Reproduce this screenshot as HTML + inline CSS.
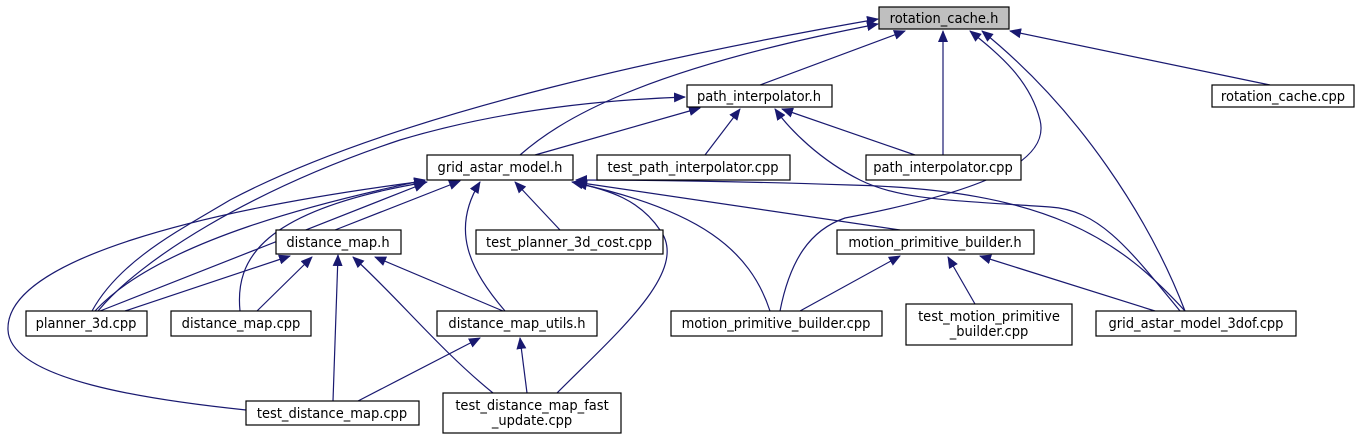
<!DOCTYPE html>
<html><head><meta charset="utf-8"><style>
html,body{margin:0;padding:0;background:#fff;}
svg text{font-family:"DejaVu Sans Condensed","DejaVu Sans","Liberation Sans",sans-serif;font-size:14.5px;fill:#000;}
</style></head><body>
<svg width="1364" height="440" viewBox="0 0 1364 440" xmlns="http://www.w3.org/2000/svg">
<defs>
<marker id="a" markerWidth="12" markerHeight="10" refX="11" refY="5" orient="auto" markerUnits="userSpaceOnUse">
<path d="M0,0 L12,5 L0,10 z" fill="#191970"/>
</marker>
</defs>
<g fill="none" stroke="#191970" stroke-width="1.2" marker-end="url(#a)">
<path d="M760,85 L905,31"/>
<path d="M520,155 C560,120 640,70 878,24"/>
<path d="M92,311 C120,260 180,230 230,200 C400,110 700,50 878,19"/>
<path d="M943,155 L943,31"/>
<path d="M780,311 C790,260 810,230 845,218 C990,190 1050,160 1040,120 C1030,80 1000,55 970,31"/>
<path d="M1185,311 C1150,220 1080,110 982,31"/>
<path d="M1270,85 L1010,31"/>
<path d="M535,155 L700,108"/>
<path d="M98,311 C140,260 250,190 400,140 C500,110 600,100 685,97"/>
<path d="M705,155 L740,109"/>
<path d="M915,155 L782,109"/>
<path d="M1180,311 C1130,250 1100,210 1050,207 C950,200 900,200 860,180 C820,160 790,130 775,109"/>
<path d="M335,230 L460,181"/>
<path d="M505,311 C470,270 450,230 480,182"/>
<path d="M560,230 L515,182"/>
<path d="M95,311 C160,240 330,200 425,180"/>
<path d="M100,311 L425,183"/>
<path d="M240,311 C235,260 260,210 427,182"/>
<path d="M246,410 C150,400 10,380 8,330 C5,260 200,210 425,181"/>
<path d="M900,230 L575,182"/>
<path d="M770,311 C750,250 700,210 576,183"/>
<path d="M557,393 C620,330 690,270 660,230 C640,200 610,190 572,182"/>
<path d="M1185,311 C1120,240 1050,190 850,185 C700,180 620,180 576,180"/>
<path d="M125,311 L290,256"/>
<path d="M257,311 L312,257"/>
<path d="M333,401 L338,255"/>
<path d="M493,393 C440,350 400,300 353,257"/>
<path d="M503,311 L375,257"/>
<path d="M358,401 L480,338"/>
<path d="M527,393 L520,338"/>
<path d="M800,311 L900,256"/>
<path d="M975,304 L948,257"/>
<path d="M1155,311 L980,256"/>
</g>
<g stroke="#000" stroke-width="1.2">
<rect x="879" y="7" width="130" height="22" fill="#bfbfbf"/>
<rect x="687" y="85" width="145" height="22" fill="#fff"/>
<rect x="1212" y="85" width="142" height="22" fill="#fff"/>
<rect x="427" y="155" width="146" height="25" fill="#fff"/>
<rect x="597" y="155" width="193" height="25" fill="#fff"/>
<rect x="866" y="155" width="155" height="25" fill="#fff"/>
<rect x="276" y="230" width="125" height="24" fill="#fff"/>
<rect x="476" y="230" width="187" height="24" fill="#fff"/>
<rect x="837" y="230" width="197" height="24" fill="#fff"/>
<rect x="26" y="311" width="121" height="25" fill="#fff"/>
<rect x="171" y="311" width="140" height="25" fill="#fff"/>
<rect x="437" y="311" width="160" height="25" fill="#fff"/>
<rect x="671" y="311" width="211" height="25" fill="#fff"/>
<rect x="906" y="304" width="166" height="41" fill="#fff"/>
<rect x="1096" y="311" width="200" height="25" fill="#fff"/>
<rect x="246" y="401" width="173" height="24" fill="#fff"/>
<rect x="443" y="393" width="178" height="40" fill="#fff"/>
</g>
<g text-anchor="middle">
<text x="944" y="23">rotation_cache.h</text>
<text x="759" y="101">path_interpolator.h</text>
<text x="1283" y="101">rotation_cache.cpp</text>
<text x="500" y="172">grid_astar_model.h</text>
<text x="693" y="172">test_path_interpolator.cpp</text>
<text x="943" y="172">path_interpolator.cpp</text>
<text x="338" y="247">distance_map.h</text>
<text x="569" y="247">test_planner_3d_cost.cpp</text>
<text x="935" y="247">motion_primitive_builder.h</text>
<text x="86" y="328">planner_3d.cpp</text>
<text x="241" y="328">distance_map.cpp</text>
<text x="517" y="328">distance_map_utils.h</text>
<text x="776" y="328">motion_primitive_builder.cpp</text>
<text x="989" y="321">test_motion_primitive</text>
<text x="989" y="336">_builder.cpp</text>
<text x="1196" y="328">grid_astar_model_3dof.cpp</text>
<text x="332" y="418">test_distance_map.cpp</text>
<text x="532" y="410">test_distance_map_fast</text>
<text x="532" y="425">_update.cpp</text>
</g>
</svg>
</body></html>
